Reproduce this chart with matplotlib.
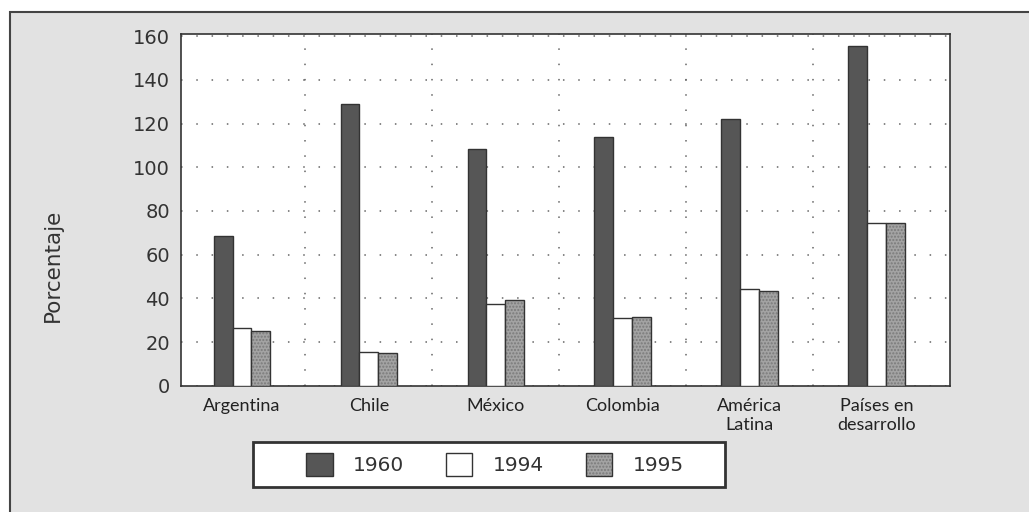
import matplotlib
matplotlib.use("Agg")
import matplotlib.pyplot as plt
import numpy as np
from matplotlib.patches import Rectangle, Patch

# Datos por región y año (porcentaje)
regiones = ['Argentina', 'Chile', 'México', 'Colombia', 'América\nLatina', 'Países en\ndesarrollo']
anios = ['1960', '1994', '1995']
v1960 = [68.5, 129, 108.5, 114, 122, 155.5]
v1994 = [26.3, 15.6, 37.3, 30.9, 44.1, 74.4]
v1995 = [25.2, 14.8, 39.1, 31.3, 43.4, 74.4]

W, H = 1029, 512
fig = plt.figure(figsize=(W / 100, H / 100), dpi=100)
fig.patch.set_facecolor('white')

# marco gris de fondo
fig.add_artist(Rectangle((10 / W, -0.05), 1.2, (H - 12) / H + 0.05,
                         transform=fig.transFigure, facecolor='#e2e2e2',
                         edgecolor='#444444', lw=1.5, zorder=-5))

ax = fig.add_axes([181 / W, (H - 385.7) / H, (950 - 181) / W, (385.7 - 34) / H])
ax.set_facecolor('white')

x = np.arange(len(regiones))
w = 0.148
ax.bar(x - w, v1960, w, color='#565656', edgecolor='#333333', lw=1.0, zorder=3)
ax.bar(x, v1994, w, color='white', edgecolor='#333333', lw=1.0, zorder=3)
ax.bar(x + w, v1995, w, color='#a3a3a3', edgecolor='#7a7a7a', hatch='.....', lw=0, zorder=3)
ax.bar(x + w, v1995, w, fill=False, edgecolor='#333333', lw=1.0, zorder=4)

ax.set_xlim(-0.48, 5.58)
ax.set_ylim(0, 161)
ax.set_yticks(range(0, 161, 20))
ax.set_xticks(x)
ax.set_xticks(x[:-1] + 0.5, minor=True)
ax.set_xticklabels(regiones, fontname='Lato', fontsize=13, color='#222222')
ax.tick_params(axis='y', length=0, pad=8, labelsize=14, labelcolor='#333333')
ax.tick_params(axis='x', which='both', length=0, pad=9)

# rejilla punteada
ax.grid(axis='y', linestyle=(0, (1, 9)), color='#666666', lw=1.1, zorder=0)
ax.grid(axis='x', which='minor', linestyle=(0, (1, 9)), color='#666666', lw=1.1, zorder=0)
ax.grid(axis='x', which='major', visible=False)

for s in ax.spines.values():
    s.set_color('#333333')
    s.set_linewidth(1.2)

ax.set_ylabel('Porcentaje', fontsize=15.5, color='#333333')
ax.yaxis.set_label_coords(-0.153, 0.343)

# leyenda con recuadro propio
fig.add_artist(Rectangle((253 / W, (H - 487) / H), (725 - 253) / W, 45 / H,
                         transform=fig.transFigure, facecolor='white',
                         edgecolor='#333333', lw=2, zorder=1))
handles = [Patch(facecolor='#565656', edgecolor='#333333'),
           Patch(facecolor='white', edgecolor='#333333'),
           (Patch(facecolor='#a3a3a3', edgecolor='#7a7a7a', hatch='.....', lw=0),
            Patch(fill=False, edgecolor='#333333'))]
leg = fig.legend(handles, anios, loc='center', bbox_to_anchor=(495 / W, (H - 464.5) / H),
                 ncol=3, frameon=False, fontsize=14.5, handlelength=1.3, handleheight=1.4,
                 handletextpad=1.0, columnspacing=2.1)
leg.set_zorder(2)
for t in leg.get_texts():
    t.set_color('#333333')

fig.savefig('out.png', dpi=100)
